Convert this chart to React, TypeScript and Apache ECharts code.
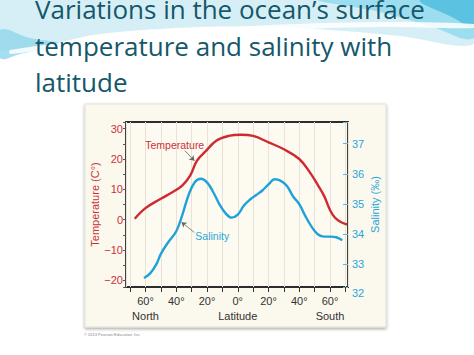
import React, { useEffect, useRef } from "react";
import * as echarts from "echarts";

// Latitude: negative = North, positive = South (degrees)
const tempLat = [-67, -60, -50, -42, -36, -31, -26.5, -21, -14, -6, 2, 10, 20, 30, 40, 47, 52, 56, 60, 63, 67, 71];
const tempVal = [0.3, 3.8, 6.9, 9.2, 11.3, 14.5, 19.5, 22.5, 26, 27.6, 28, 27.6, 25.5, 23.2, 20, 15.5, 11.5, 8, 3.2, 0.8, -0.8, -1.6];

const salLat = [-61, -57, -53, -50, -45, -40, -36, -32, -28, -24, -20, -16, -12, -8, -4, 0, 4, 8, 12, 16, 20, 24, 28, 32, 36, 40, 44, 48, 52, 56, 60, 64, 68];
const salVal = [32.55, 32.7, 33.0, 33.35, 33.75, 34.1, 34.65, 35.3, 35.72, 35.84, 35.72, 35.4, 35.0, 34.7, 34.55, 34.65, 34.95, 35.15, 35.3, 35.45, 35.65, 35.82, 35.77, 35.6, 35.25, 35.0, 34.6, 34.25, 34.0, 33.92, 33.92, 33.9, 33.8];

const latRange = [-72.7, 71.7];
const tempRange = [-22.2, 32.2];
const salRange = [32.25, 37.72];

const titleLines = ["Variations in the ocean\u2019s surface", "temperature and salinity with", "latitude"];

const RED = "#cf2a30";
const BLUE = "#1fa2d8";
const RED_TXT = "#cc3138";
const BLUE_TXT = "#2aa6d9";
const FONT = "Liberation Sans, Arial, sans-serif";

export default function App() {
  const ref = useRef<HTMLDivElement>(null);
  useEffect(() => {
    if (!ref.current) return;
    const chart = echarts.init(ref.current, undefined, { renderer: "svg" });
    const tempData = tempLat.map((l, i) => [l, tempVal[i]]);
    const salData = salLat.map((l, i) => [l, salVal[i]]);
    const option: any = {
      animation: false,
      backgroundColor: "#ffffff",
      graphic: [
        {
          type: "polygon",
          z: -10,
          shape: { points: [[0, 0], [474, 0], [474, 44], [400, 36], [300, 28], [200, 27], [100, 34], [0, 50]], smooth: 0.3 },
          style: { fill: "#d6eff7" },
        },
        {
          type: "polygon",
          z: -9,
          shape: { points: [[0, 30], [30, 38], [60, 44], [20, 54], [0, 58]], smooth: 0.4 },
          style: { fill: "#8fd6ea", opacity: 0.8 },
        },
        {
          type: "polygon",
          z: -9,
          shape: { points: [[320, 0], [474, 0], [474, 38], [430, 26], [380, 12]], smooth: 0.4 },
          style: { fill: "#8fd8ee", opacity: 0.8 },
        },
        {
          type: "polygon",
          z: -8,
          shape: { points: [[420, 0], [474, 0], [474, 26], [450, 16]], smooth: 0.4 },
          style: { fill: "#3fb6dc", opacity: 0.7 },
        },
        {
          type: "polygon",
          z: -8,
          shape: { points: [[10, 50], [120, 36], [250, 26], [380, 22], [474, 24], [474, 28], [380, 27], [250, 31], [120, 41], [10, 54]], smooth: 0.3 },
          style: { fill: "#ffffff", opacity: 0.85 },
        },
        {
          type: "rect",
          z: -5,
          shape: { x: 85, y: 104, width: 301, height: 223 },
          style: { fill: "#fbf8ee", stroke: "#e4e1d6", lineWidth: 1, shadowBlur: 3, shadowColor: "rgba(0,0,0,0.35)", shadowOffsetY: 1.5 },
        },
        ...titleLines.map((t, i) => ({
          type: "text",
          z: 5,
          x: 35,
          y: 9 + i * 36.5,
          style: { text: t, fill: "#14586a", font: "26px 'Open Sans'", verticalAlign: "middle" },
        })),
        {
          type: "text",
          z: 5,
          x: 84,
          y: 334,
          style: { text: "\u00a9 2013 Pearson Education, Inc.", fill: "#888", font: "4px 'Liberation Sans'", verticalAlign: "middle" },
        },
      ],
      grid: {
        left: 126,
        right: 126,
        top: 122,
        bottom: 68,
        show: true,
        backgroundColor: "#fdfaf2",
        borderColor: "#2d2d2d",
        borderWidth: 1.8,
      },
      xAxis: {
        type: "value",
        min: latRange[0],
        max: latRange[1],
        splitNumber: 14,
        axisLine: { show: false, onZero: false },
        axisTick: { show: true, length: 5, lineStyle: { color: "#333", width: 1 } },
        splitLine: { show: true, lineStyle: { color: "#e8e3d5", width: 1 } },
        axisLabel: {
          color: "#333",
          fontSize: 11,
          fontFamily: FONT,
          lineHeight: 14.5,
          margin: 7,
          showMinLabel: false,
          showMaxLabel: false,
          formatter: (v: number) => {
            if (Math.abs(v - Math.round(v)) > 0.01) return "";
            const a = Math.abs(Math.round(v));
            if (a === 60) return v < 0 ? "60\u00b0\nNorth" : "60\u00b0\nSouth";
            if (a === 0) return "0\u00b0\nLatitude";
            if (a % 20 === 0) return a + "\u00b0";
            return "";
          },
        },
      },
      yAxis: [
        {
          type: "value",
          position: "left",
          min: tempRange[0],
          max: tempRange[1],
          splitNumber: 11,
          name: "Temperature (C\u00b0)",
          nameLocation: "middle",
          nameGap: 18,
          nameTextStyle: { color: RED_TXT, fontSize: 11, fontFamily: FONT },
          axisLine: { show: false, onZero: false },
          axisTick: { show: true, length: 3, lineStyle: { color: "#555" } },
          splitLine: { show: false },
          axisLabel: {
            color: RED_TXT,
            fontSize: 11,
            fontFamily: FONT,
            margin: 3,
            formatter: (v: number) => {
              if (Math.abs(v - Math.round(v)) > 0.01) return "";
              const r = Math.round(v);
              if (r % 10 !== 0) return "";
              return r < 0 ? "\u2212" + Math.abs(r) : String(r);
            },
          },
        },
        {
          type: "value",
          position: "right",
          min: salRange[0],
          max: salRange[1],
          splitNumber: 5,
          name: "Salinity (\u2030)",
          nameLocation: "middle",
          nameGap: 21,
          nameTextStyle: { color: BLUE_TXT, fontSize: 11, fontFamily: FONT },
          axisLine: { show: false, onZero: false },
          axisTick: { show: true, inside: true, length: 5, lineStyle: { color: "#6ab3d6" } },
          splitLine: { show: false },
          axisLabel: {
            color: BLUE_TXT,
            fontSize: 11,
            fontFamily: FONT,
            margin: 4,
            showMinLabel: true,
            formatter: (v: number) => {
              if (Math.abs(v - Math.round(v)) < 0.01) return String(Math.round(v));
              if (v < salRange[0] + 0.01) return "{low|32}";
              return "";
            },
            rich: { low: { padding: [12, 0, 0, 0], color: BLUE_TXT, fontSize: 11, fontFamily: FONT } },
          },
        },
      ],
      series: [
        {
          name: "Temperature",
          type: "line",
          xAxisIndex: 0,
          yAxisIndex: 0,
          data: tempData,
          smooth: 0.4,
          showSymbol: false,
          z: 3,
          lineStyle: { color: RED, width: 2.4 },
          markPoint: {
            silent: true,
            symbol: "circle",
            symbolSize: 0,
            label: { show: true, position: "inside", color: RED_TXT, fontSize: 10.5, fontFamily: FONT, formatter: "{b}" },
            data: [{ name: "Temperature", coord: [-41, 24.5] }],
          },
          markLine: {
            silent: true,
            symbol: ["none", "arrow"],
            symbolSize: 5,
            label: { show: false },
            lineStyle: { color: "#666", width: 0.8, type: "solid" },
            data: [[{ coord: [-34.5, 22.8] }, { coord: [-28.2, 19.4] }]],
          },
        },
        {
          name: "Salinity",
          type: "line",
          xAxisIndex: 0,
          yAxisIndex: 1,
          data: salData,
          smooth: 0.4,
          showSymbol: false,
          z: 3,
          lineStyle: { color: BLUE, width: 2.4 },
          markPoint: {
            silent: true,
            symbol: "circle",
            symbolSize: 0,
            label: { show: true, position: "inside", color: BLUE_TXT, fontSize: 10.5, fontFamily: FONT, formatter: "{b}" },
            data: [{ name: "Salinity", coord: [-16.6, 33.93] }],
          },
          markLine: {
            silent: true,
            symbol: ["none", "arrow"],
            symbolSize: 5,
            label: { show: false },
            lineStyle: { color: "#666", width: 0.8, type: "solid" },
            data: [[{ coord: [-28.3, 34.06] }, { coord: [-36.6, 34.4] }]],
          },
        },
      ],
    };
    chart.setOption(option);
    return () => chart.dispose();
  }, []);
  return <div ref={ref} style={{ position: "fixed", left: 0, top: 0, width: 474, height: 355 }} />;
}
